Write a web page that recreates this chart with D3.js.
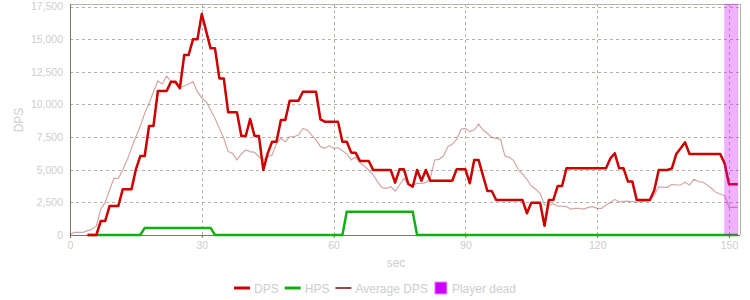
<!DOCTYPE html>
<html>
<head>
<meta charset="utf-8">
<script src="https://cdn.jsdelivr.net/npm/d3@7"></script>
<style>
  body { margin: 0; background: #fff; }
  text { font-family: "Liberation Sans", Arial, sans-serif; fill: #cdcdcd; }
</style>
</head>
<body>
<svg id="chart" width="750" height="300"></svg>
<script>
// DPS and HPS start at second 4, average DPS at second 0
var dpsStart = 4;
var dps = [0, 0, 0, 1070, 1070, 2220, 2220, 2220, 3500, 3500, 3500, 5030, 6050, 6050, 8350, 8350,
  11030, 11030, 11030, 11750, 11750, 11240, 13790, 13790, 14990, 14990, 16930, 15600, 14300, 14300,
  12000, 12000, 9400, 9400, 9400, 7590, 7590, 8890, 7590, 7590, 4980, 6260, 7150, 7150, 8810, 8810,
  10290, 10290, 10290, 10980, 10980, 10980, 10980, 8860, 8680, 8680, 8680, 8680, 7150, 7150, 6310,
  6310, 5670, 5670, 5670, 4980, 4980, 4980, 4980, 4980, 4010, 5030, 5030, 3910, 3700, 4980, 4160,
  4980, 4160, 4160, 4160, 4160, 4160, 4160, 5030, 5030, 5030, 3960, 5750, 5750, 4550, 3370, 3370,
  2680, 2680, 2680, 2680, 2680, 2680, 2680, 1660, 2480, 2480, 2480, 715, 2680, 2680, 3750, 3750,
  5110, 5110, 5110, 5110, 5110, 5110, 5110, 5110, 5110, 5110, 5870, 6260, 5110, 5110, 4090, 4090,
  2680, 2680, 2680, 2680, 3450, 4980, 4980, 4980, 5110, 6210, 6650, 7100, 6210, 6210, 6210, 6210,
  6210, 6210, 6210, 6210, 5490, 3880, 3880, 3880];
var hps = [0, 0, 0, 0, 0, 0, 0, 0, 0, 0, 0, 0, 0,
  540, 540, 540, 540, 540, 540, 540, 540, 540, 540, 540, 540, 540, 540, 540, 540,
  0, 0, 0, 0, 0, 0, 0, 0, 0, 0, 0, 0, 0, 0, 0, 0, 0, 0, 0, 0, 0, 0, 0, 0, 0, 0, 0, 0, 0, 0,
  1790, 1790, 1790, 1790, 1790, 1790, 1790, 1790, 1790, 1790, 1790, 1790, 1790, 1790, 1790, 1790,
  0, 0, 0, 0, 0, 0, 0, 0, 0, 0, 0, 0, 0, 0, 0, 0, 0, 0, 0, 0, 0, 0, 0, 0, 0, 0, 0, 0, 0, 0,
  0, 0, 0, 0, 0, 0, 0, 0, 0, 0, 0, 0, 0, 0, 0, 0, 0, 0, 0, 0, 0, 0, 0, 0, 0, 0, 0, 0, 0, 0,
  0, 0, 0, 0, 0, 0, 0, 0, 0, 0, 0, 0, 0, 0];
var avgStart = 0;
var avgDps = [50, 200, 200, 200, 330, 430, 690, 1970, 2480, 3450, 4340, 4340, 4980, 5750, 6640, 7530,
  8350, 9320, 10090, 10980, 11800, 11570, 12180, 11750, 11570, 11310, 11420, 11570, 11750, 10980,
  10500, 10220, 9580, 8940, 8170, 7410, 6390, 6260, 5750, 6210, 6510, 6390, 6330, 6000, 5750, 6000,
  6130, 7020, 7410, 7150, 7530, 7530, 7660, 8170, 8040, 7660, 7280, 6770, 6640, 6850, 6640, 6690,
  6460, 6210, 5750, 5950, 5540, 5290, 4980, 4600, 4090, 3630, 3580, 3700, 3370, 3830, 4340, 3880,
  3830, 3960, 3960, 4010, 4340, 5750, 5800, 6050, 6770, 6950, 7330, 8100, 8170, 7920, 8040, 8500,
  8040, 7790, 7480, 7410, 7330, 6050, 5950, 5700, 5030, 4670, 4270, 3750, 3500, 3190, 2300, 2300,
  2380, 2220, 2220, 2170, 1990, 2040, 2040, 1990, 2120, 2170, 2040, 2040, 2300, 2480, 2730, 2530,
  2580, 2600, 2550, 2530, 2550, 2600, 2680, 3060, 3700, 3650, 3650, 3880, 3830, 3830, 4040, 3830,
  4270, 4090, 4060, 3830, 3580, 3270, 3140, 3010, 2120, 2120, 2120];
var deadSpan = [149, 152];
var xTicks = [0, 30, 60, 90, 120, 150];
var yTicks = [0, 2500, 5000, 7500, 10000, 12500, 15000, 17500];
var legendNames = ["DPS", "HPS", "Average DPS", "Player dead"];

var svg = d3.select("#chart");
var x = d3.scaleLinear().domain([0, 152.5]).range([70, 740]);
var y = d3.scaleLinear().domain([0, 17700]).range([235, 4]);

function px(v) { return Math.round(v) + 0.5; }

// grid
var grid = svg.append("g").attr("shape-rendering", "crispEdges")
  .attr("stroke", "#b4b2a4").attr("stroke-dasharray", "3,3");
grid.selectAll("line.h")
  .data(yTicks.slice(1))
  .enter().append("line").attr("class", "h")
  .attr("x1", x(0)).attr("x2", x(152.5))
  .attr("y1", function (d) { return px(y(d)); }).attr("y2", function (d) { return px(y(d)); });
grid.selectAll("line.v")
  .data(xTicks.slice(1))
  .enter().append("line").attr("class", "v")
  .attr("y1", y(0)).attr("y2", y(17700))
  .attr("x1", function (d) { return px(x(d)); }).attr("x2", function (d) { return px(x(d)); });

// frame
var frame = svg.append("g").attr("shape-rendering", "crispEdges");
frame.append("line").attr("x1", x(0)).attr("x2", x(152.5)).attr("y1", px(y(17700))).attr("y2", px(y(17700)))
  .attr("stroke", "#b8b5a2");
frame.append("line").attr("x1", px(x(152.5))).attr("x2", px(x(152.5))).attr("y1", y(17700)).attr("y2", y(0))
  .attr("stroke", "#b8b5a2");

var xAxis = d3.axisBottom(x).tickValues(xTicks).tickSize(3).tickPadding(4).tickFormat(d3.format("d"));
var yAxis = d3.axisLeft(y).tickValues(yTicks).tickSize(0).tickPadding(7).tickFormat(d3.format(","));

var gx = svg.append("g").attr("transform", "translate(0," + y(0) + ")").call(xAxis);
var gy = svg.append("g").attr("transform", "translate(" + x(0) + ",0)").call(yAxis);
[gx, gy].forEach(function (g) {
  g.select(".domain").remove();
  g.selectAll(".tick line").attr("stroke", "#777763");
  g.selectAll(".tick text").style("font-size", "10.5px").attr("fill", "#cdcdcd");
});
frame.append("line").attr("x1", x(0)).attr("x2", x(152.5)).attr("y1", px(y(0))).attr("y2", px(y(0)))
  .attr("stroke", "#777763");
frame.append("line").attr("x1", px(x(0))).attr("x2", px(x(0))).attr("y1", y(17700)).attr("y2", y(0))
  .attr("stroke", "#777763");

svg.append("text").text("sec").attr("x", 396).attr("y", 267)
  .attr("text-anchor", "middle").style("font-size", "12px");
svg.append("text").text("DPS").attr("transform", "translate(23,120) rotate(-90)")
  .attr("text-anchor", "middle").style("font-size", "12px");

// series
function pts(arr, start) {
  return arr.map(function (v, i) { return [start + i, v]; });
}
var line = d3.line()
  .x(function (d) { return x(d[0]); })
  .y(function (d) { return y(d[1]); });

svg.append("path").datum(pts(avgDps, avgStart)).attr("d", line)
  .attr("fill", "none").attr("stroke", "#800000").attr("stroke-opacity", 0.35).attr("stroke-width", 1.2);
svg.append("path").datum(pts(hps, dpsStart)).attr("d", line)
  .attr("fill", "none").attr("stroke", "#10b010").attr("stroke-width", 2.5);
svg.append("path").datum(pts(dps, dpsStart)).attr("d", line)
  .attr("fill", "none").attr("stroke", "#cc0000").attr("stroke-width", 2.5).attr("stroke-linejoin", "round");

// player dead band
svg.append("rect")
  .attr("x", x(deadSpan[0])).attr("width", x(deadSpan[1]) - x(deadSpan[0]))
  .attr("y", y(17700)).attr("height", y(0) - y(17700))
  .attr("fill", "#cc00ff").attr("fill-opacity", 0.3)
  .attr("stroke", "#cc00ff").attr("stroke-opacity", 0.15);

// legend
var legend = svg.append("g");
var lx = 0;
legendNames.forEach(function (name, i) {
  var g = legend.append("g").attr("transform", "translate(" + lx + ",0)");
  if (i < 3) {
    g.append("line").attr("x1", 0).attr("x2", 16).attr("y1", 0).attr("y2", 0)
      .attr("stroke", ["#cc0000", "#10b010", "#800000"][i])
      .attr("stroke-width", i < 2 ? 3 : 1.5);
  } else {
    g.append("rect").attr("x", 1).attr("y", -6).attr("width", 12).attr("height", 12)
      .attr("fill", "#cc00ff").attr("stroke", "#e38cff");
  }
  var t = g.append("text").text(name).attr("x", i < 3 ? 20 : 18).attr("y", 4.5).style("font-size", "12px");
  lx += (i < 3 ? 20 : 18) + t.node().getComputedTextLength() + 6;
});
legend.attr("transform", "translate(" + (375 - (lx - 6) / 2) + ",288)");
</script>
</body>
</html>
